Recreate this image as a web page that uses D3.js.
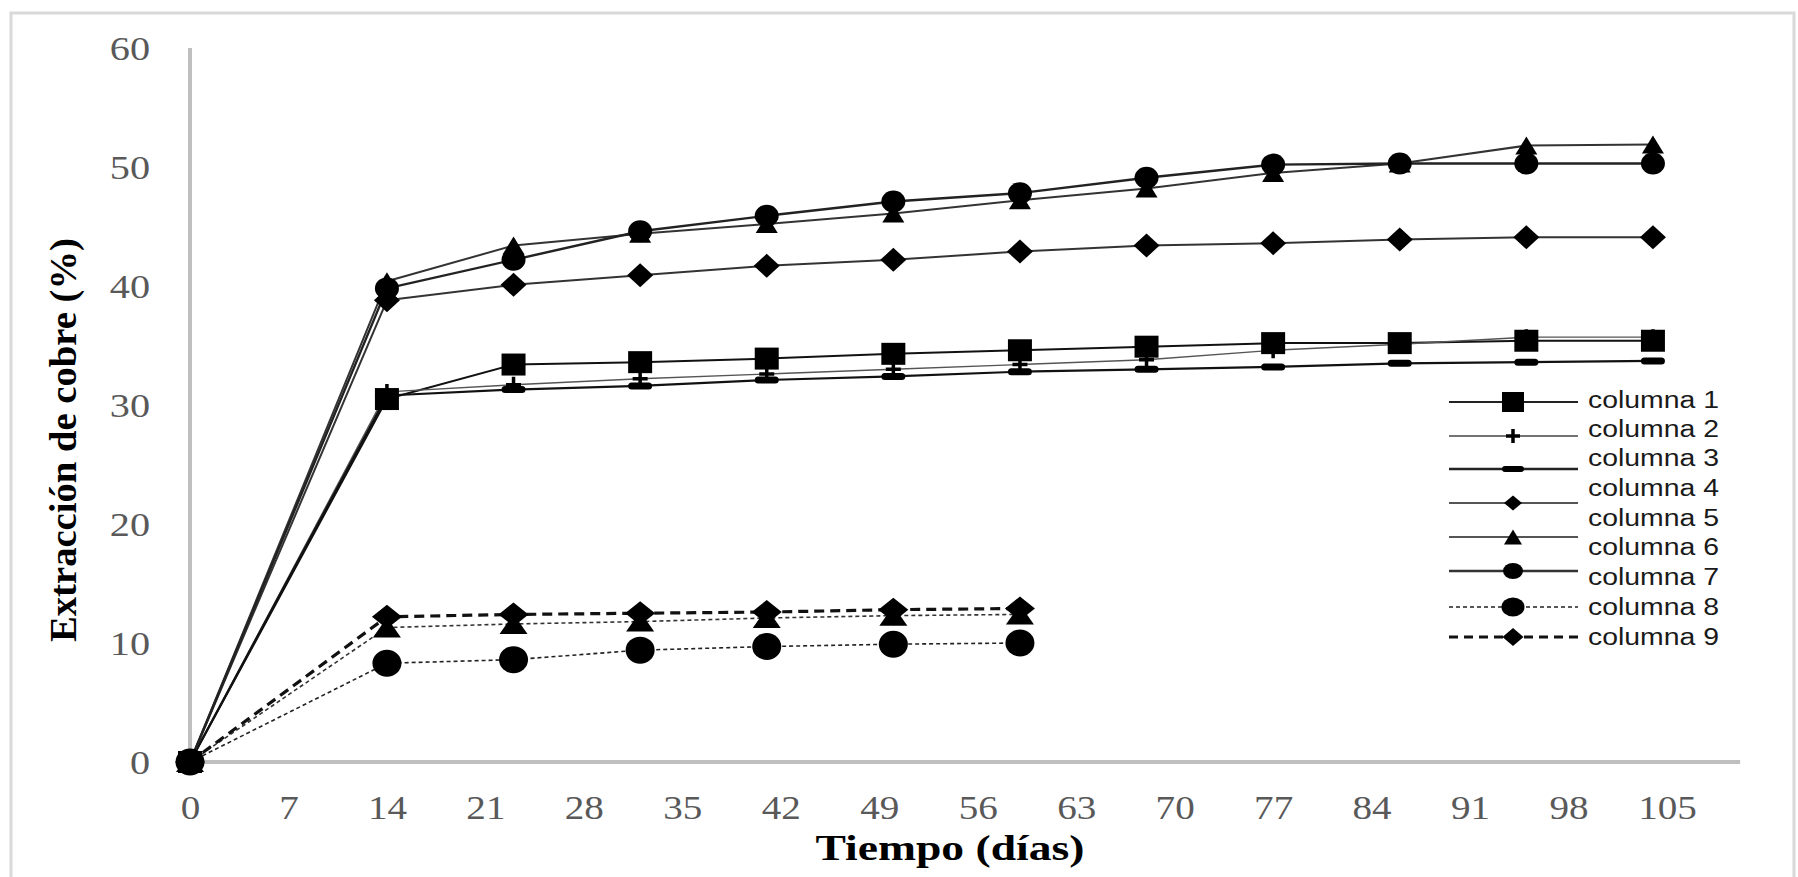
<!DOCTYPE html>
<html><head><meta charset="utf-8">
<script src="https://cdn.jsdelivr.net/npm/d3@7"></script>
<style>html,body{margin:0;padding:0;background:#fff;}svg{display:block;}</style>
</head><body>
<svg id="chart" width="1798" height="877"></svg>
<script>
// ---- data ----
const days      = [0,14,23,32,41,50,59,68,77,86,95,104];
const daysShort = [0,14,23,32,41,50,59];
const col1 = [0,30.5,33.4,33.6,33.9,34.3,34.6,34.9,35.2,35.2,35.4,35.4];
const col2 = [0,31.1,31.7,32.2,32.6,33.0,33.4,33.8,34.6,35.1,35.7,35.7];
const col3 = [0,30.8,31.3,31.6,32.1,32.4,32.8,33.0,33.2,33.5,33.6,33.7];
const col4 = [0,38.8,40.1,40.9,41.7,42.2,42.9,43.4,43.6,43.9,44.1,44.1];
const col5 = [0,40.4,43.4,44.4,45.2,46.1,47.2,48.2,49.5,50.3,51.8,51.9];
const col6 = [0,39.8,42.2,44.6,45.9,47.1,47.8,49.1,50.2,50.3,50.3,50.3];
const col7 = [0,11.3,11.6,11.8,12.1,12.3,12.4];
const col8 = [0,8.3,8.6,9.4,9.7,9.9,10.0];
const col9 = [0,12.2,12.4,12.5,12.6,12.8,12.9];
const xTicks = [0,7,14,21,28,35,42,49,56,63,70,77,84,91,98,105];
const yTicks = [0,10,20,30,40,50,60];
const legendLabels = ["columna 1","columna 2","columna 3","columna 4","columna 5","columna 6","columna 7","columna 8","columna 9"];
const xTitle = "Tiempo (días)";
const yTitle = "Extracción de cobre (%)";

// ---- marker shapes ----
const shapes = {
  square:  (w,h)=>`M${-w/2},${-h/2}h${w}v${h}h${-w}Z`,
  circle:  (w,h)=>`M${-w/2},0A${w/2},${h/2} 0 1,0 ${w/2},0A${w/2},${h/2} 0 1,0 ${-w/2},0Z`,
  triangle:(w,h)=>`M0,${-h/2}L${w/2},${h/2}L${-w/2},${h/2}Z`,
  diamond: (w,h)=>`M0,${-h/2}L${w/2},0L0,${h/2}L${-w/2},0Z`,
  dash:    (w,h)=>`M${-w/2+h/2},${-h/2}h${w-h}a${h/2},${h/2} 0 0,1 0,${h}h${-(w-h)}a${h/2},${h/2} 0 0,1 0,${-h}Z`,
  plus:    (w,h)=>{const t=3.5;return `M${-t/2},${-h/2}h${t}v${h/2-t/2}h${w/2-t/2}v${t}h${-(w/2-t/2)}v${h/2-t/2}h${-t}v${-(h/2-t/2)}h${-(w/2-t/2)}v${-t}h${w/2-t/2}Z`;}
};

const series = [
  {x:days, y:col1, shape:"square",  mw:24, mh:22, stroke:"#111", sw:2.0, dash:null},
  {x:days, y:col2, shape:"plus",    mw:15, mh:16, stroke:"#555", sw:1.4, dash:null},
  {x:days, y:col3, shape:"dash",    mw:24, mh:7,  stroke:"#111", sw:2.2, dash:null},
  {x:days, y:col4, shape:"diamond", mw:26, mh:24, stroke:"#333", sw:2.0, dash:null},
  {x:days, y:col5, shape:"triangle",mw:22, mh:18, stroke:"#333", sw:2.0, dash:null},
  {x:days, y:col6, shape:"circle",  mw:24, mh:22, stroke:"#222", sw:2.4, dash:null},
  {x:daysShort, y:col7, shape:"triangle",mw:28, mh:20, stroke:"#333", sw:1.6, dash:"4,3"},
  {x:daysShort, y:col8, shape:"circle",  mw:29, mh:27, stroke:"#222", sw:1.6, dash:"4,3"},
  {x:daysShort, y:col9, shape:"diamond", mw:30, mh:24, stroke:"#111", sw:3.2, dash:"10,6"}
];

// legend symbol rows (as drawn in the original)
const legendSyms = [
  {shape:"square",  mw:22, mh:20, stroke:"#222", sw:2.0, dash:null},
  {shape:"plus",    mw:14, mh:14, stroke:"#444", sw:1.3, dash:null},
  {shape:"dash",    mw:22, mh:6,  stroke:"#222", sw:2.4, dash:null},
  {shape:"diamond", mw:18, mh:15, stroke:"#555", sw:2.0, dash:null},
  {shape:"triangle",mw:18, mh:15, stroke:"#555", sw:2.0, dash:null},
  {shape:"circle",  mw:20, mh:16, stroke:"#333", sw:2.6, dash:null},
  {shape:"circle",  mw:23, mh:19, stroke:"#222", sw:1.5, dash:"4,3"},
  {shape:"diamond", mw:21, mh:18, stroke:"#111", sw:3.0, dash:"9,6"}
];

const svg = d3.select("#chart");
const x = d3.scaleLinear().domain([0,105]).range([190,1667]);
const y = d3.scaleLinear().domain([0,60]).range([762,48]);

// frame
svg.append("rect").attr("x",11).attr("y",13).attr("width",1783).attr("height",900)
  .attr("fill","none").attr("stroke","#d9d9d9").attr("stroke-width",3);

// axes lines
svg.append("line").attr("x1",x(0)).attr("x2",x(0)).attr("y1",y(60)).attr("y2",y(0))
  .attr("stroke","#bfbfbf").attr("stroke-width",4);
svg.append("line").attr("x1",x(0)-2).attr("x2",x(110.2)).attr("y1",y(0)).attr("y2",y(0))
  .attr("stroke","#bfbfbf").attr("stroke-width",4);

function stretch(sel, f){
  sel.each(function(){ const w=this.getComputedTextLength(); d3.select(this).attr("textLength",w*f).attr("lengthAdjust","spacingAndGlyphs"); });
}

// y axis ticks
const gy = svg.append("g").attr("transform",`translate(150,0)`)
  .call(d3.axisLeft(y).tickValues(yTicks).tickSize(0).tickPadding(0).tickFormat(d3.format("d")));
gy.select(".domain").remove();
gy.selectAll("text").attr("font-family","'Liberation Serif', serif").attr("font-size",33)
  .attr("fill","#595959").attr("dy","0.35em").call(stretch,1.22);

// x axis ticks
const gx = svg.append("g").attr("transform",`translate(0,782)`)
  .call(d3.axisBottom(x).tickValues(xTicks).tickSize(0).tickPadding(0).tickFormat(d3.format("d")));
gx.select(".domain").remove();
gx.selectAll("text").attr("font-family","'Liberation Serif', serif").attr("font-size",34)
  .attr("fill","#595959").attr("dy","1.1em").call(stretch,1.15);

// titles
svg.append("text").attr("x",950).attr("y",860).attr("text-anchor","middle")
  .attr("font-family","'Liberation Serif', serif").attr("font-weight","bold").attr("font-size",36)
  .attr("fill","#000").attr("textLength",269).attr("lengthAdjust","spacingAndGlyphs").text(xTitle);
svg.append("text").attr("transform","translate(76,440) rotate(-90)").attr("text-anchor","middle")
  .attr("font-family","'Liberation Serif', serif").attr("font-weight","bold").attr("font-size",37)
  .attr("fill","#000").attr("textLength",404).attr("lengthAdjust","spacingAndGlyphs").text(yTitle);

// lines
const line = d3.line().x(d=>x(d[0])).y(d=>y(d[1]));
const plot = svg.append("g");
series.forEach(s=>{
  const pts = s.x.map((d,i)=>[d,s.y[i]]);
  plot.append("path").attr("d",line(pts)).attr("fill","none").attr("stroke",s.stroke)
    .attr("stroke-width",s.sw).attr("stroke-dasharray",s.dash).attr("stroke-linejoin","round");
});
series.forEach(s=>{
  const pts = s.x.map((d,i)=>[d,s.y[i]]);
  plot.selectAll(null).data(pts).enter().append("path")
    .attr("transform",d=>`translate(${x(d[0])},${y(d[1])})`)
    .attr("d",shapes[s.shape](s.mw,s.mh)).attr("fill","#000");
});

// legend
const lg = svg.append("g");
const symY = [402,436,469,503,537,571,607,637];
const labY = [400,429,458,488,518,547,577,607,637];
legendSyms.forEach((s,i)=>{
  lg.append("line").attr("x1",1449).attr("x2",1578).attr("y1",symY[i]).attr("y2",symY[i])
    .attr("stroke",s.stroke).attr("stroke-width",s.sw).attr("stroke-dasharray",s.dash);
  lg.append("path").attr("transform",`translate(1513,${symY[i]})`).attr("d",shapes[s.shape](s.mw,s.mh)).attr("fill","#000");
});
legendLabels.forEach((t,i)=>{
  lg.append("text").attr("x",1588).attr("y",labY[i]).attr("dy","0.36em")
    .attr("font-family","'Liberation Sans', Arial, sans-serif").attr("font-size",23)
    .attr("fill","#1a1a1a").attr("textLength",131).attr("lengthAdjust","spacingAndGlyphs").text(t);
});
</script>
</body></html>
